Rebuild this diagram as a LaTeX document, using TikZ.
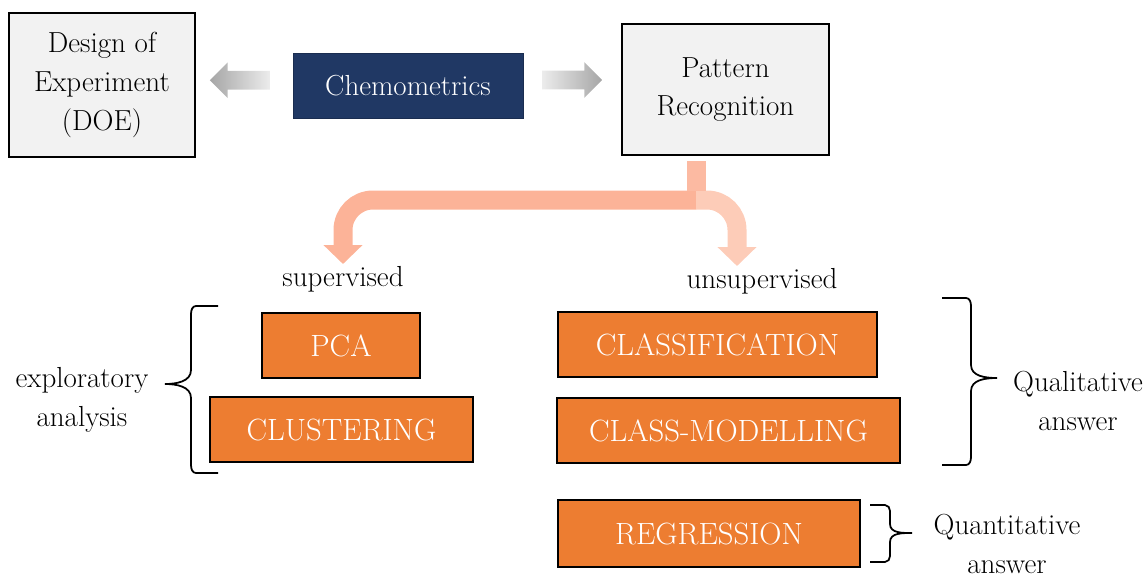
\documentclass[tikz,border=0pt]{standalone}
\usepackage{amsmath}
\usepackage{tikz}
\usetikzlibrary{shapes.arrows,arrows.meta}

\definecolor{navy}{HTML}{203864}
\definecolor{boxgrey}{HTML}{F2F2F2}
\definecolor{boxorange}{HTML}{ED7D31}
\definecolor{salmondark}{HTML}{FCB398}
\definecolor{salmonlight}{HTML}{FDCCB8}

\begin{document}
\begin{tikzpicture}[x=0.02cm, y=-0.02cm,
    every node/.style={font=\fontsize{16.5}{22}\selectfont, align=center},
    greybox/.style={draw, line width=1.5pt, fill=boxgrey, inner sep=0pt},
    orangebox/.style={draw, line width=1.4pt, fill=boxorange, text=white, inner sep=0pt,
      minimum height=1.3cm, font=\fontsize{17.5}{21}\selectfont},
    greyarrow/.style={single arrow, inner sep=0pt, text height=0.36cm, text depth=0pt,
      minimum height=1.2cm, single arrow head extend=0.17cm, single arrow tip angle=90},
    textlabel/.style={inner sep=1pt},
    branch/.style={line width=0.38cm, rounded corners=0.6cm, -{Triangle[width=0pt 2, length=0pt 1]}},
    curlybrace/.style={line width=1pt}]

  \useasboundingbox (0,0) rectangle (1145,578);

  \node[greybox, minimum width=3.72cm, minimum height=2.88cm] (doe) at (102,85) {Design of\\Experiment\\(DOE)};
  \node[draw=navy!80!black, fill=navy, text=white, minimum width=4.6cm, minimum height=1.3cm] (chem) at (408,85.5) {Chemometrics};
  \node[greybox, minimum width=4.14cm, minimum height=2.62cm] (pattern) at (725.5,89.5) {Pattern\\Recognition};

  \path (chem.west) -- node[greyarrow, shape border rotate=180, left color=gray!70, right color=gray!15, yshift=0.1cm] (todoe) {} (doe.east);
  \path (chem.east) -- node[greyarrow, left color=gray!15, right color=gray!70, yshift=0.15cm, xshift=-0.09cm] (topattern) {} (pattern.west);

  \node[textlabel] (sup) at (343,279) {supervised};
  \node[textlabel] (unsup) at (762,281) {unsupervised};

  \coordinate (fork) at (696,200);
  \draw[branch, salmondark] (fork) -| (sup.north);
  \draw[branch, salmonlight] (fork) -| ([xshift=-0.5cm]unsup.north);
  \draw[branch, -, salmondark!70!salmonlight, rounded corners=0pt, shorten <=0.1cm] (pattern.south -| fork) -- ([yshift=0.19cm]fork);

  \node[orangebox, minimum width=3.16cm] (pca) at (341,345.5) {PCA};
  \node[orangebox, minimum width=5.26cm] (clust) at (341.5,429.5) {CLUSTERING};
  \node[orangebox, minimum width=6.38cm] (classif) at (717.5,344.5) {CLASSIFICATION};
  \node[orangebox, minimum width=6.86cm] (classmod) at (728.5,430.5) {CLASS-MODELLING};
  \node[orangebox, minimum width=6.04cm, minimum height=1.34cm] (regr) at (709,533.5) {REGRESSION};

  \node[textlabel] (explo) at (82,400) {exploratory\\analysis};
  \node[textlabel] (quali) at (1078,401) {Qualitative\\answer};
  \node[textlabel, inner sep=0pt] (quanti) at (1007,544) {Quantitative\\answer};

  \draw[curlybrace] (218,306) -- (196,306) to[out=180,in=90] (191,314) -- (191,370)
    to[out=-90,in=0] (165,384) to[out=0,in=90] (191,398) -- (191,465)
    to[out=-90,in=180] (196,473) -- (218,473);
  \draw[curlybrace] (942,298) -- (966,298) to[out=0,in=90] (971,306) -- (971,365)
    to[out=-90,in=180] (997,378) to[out=180,in=90] (971,391) -- (971,457)
    to[out=-90,in=0] (966,465) -- (942,465);
  \draw[curlybrace] (870,505) -- (885,505) to[out=0,in=90] (890,511) -- (890,524)
    to[out=-90,in=180] (912,533) to[out=180,in=90] (890,542) -- (890,556)
    to[out=-90,in=0] (885,562) -- (870,562);
\end{tikzpicture}
\end{document}
